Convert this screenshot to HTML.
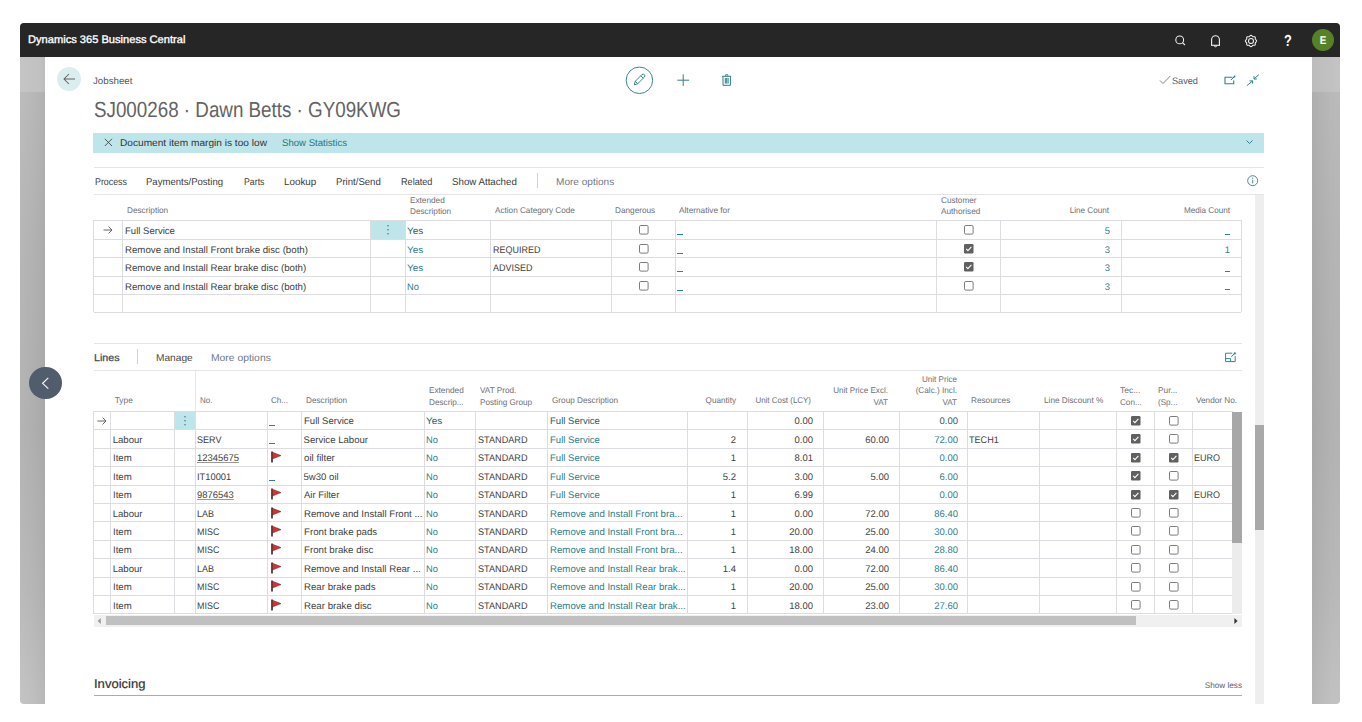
<!DOCTYPE html>
<html><head><meta charset="utf-8"><style>
html,body{margin:0;padding:0;}
body{width:1362px;height:722px;overflow:hidden;background:#fff;position:relative;font-family:"Liberation Sans",sans-serif;}
div{position:absolute;box-sizing:border-box;}
.t{white-space:nowrap;text-rendering:geometricPrecision;}
</style></head><body>
<div style="left:20.00px;top:23.00px;width:1320.00px;height:680.50px;background:#fff;border-radius:4px;overflow:hidden"></div>
<div style="left:20.00px;top:23.00px;width:1320.00px;height:33.70px;background:#262626;border-radius:4px 4px 0 0"></div>
<div style="left:20.00px;top:56.70px;width:24.80px;height:35.30px;background:linear-gradient(90deg,#c5c5c5,#c1c1c1 80%,#bcbcbc)"></div>
<div style="left:20.00px;top:92.00px;width:24.80px;height:611.50px;background:linear-gradient(90deg,rgba(255,255,255,0.05),rgba(0,0,0,0) 40%,rgba(0,0,0,0.035) 90%,rgba(0,0,0,0.05)),linear-gradient(180deg,#b9b9b9 0%,#b3b3b3 25%,#b0b0b0 55%,#b7b7b7 82%,#c1c1c1 100%);border-radius:0 0 0 4px"></div>
<div style="left:1312.40px;top:56.70px;width:27.60px;height:35.30px;background:linear-gradient(90deg,#bcbcbc,#c4c4c4)"></div>
<div style="left:1312.40px;top:92.00px;width:27.60px;height:611.50px;background:linear-gradient(90deg,rgba(0,0,0,0.06),rgba(0,0,0,0.03) 30%,rgba(0,0,0,0) 70%,rgba(255,255,255,0.02)),linear-gradient(180deg,#b9b9b9 0%,#b4b4b4 25%,#b2b2b2 55%,#b8b8b8 82%,#c1c1c1 100%);border-radius:0 0 4px 0"></div>
<div class="t" style="left:28.20px;top:30.45px;height:20px;line-height:20px;font-size:10.9px;color:#fff;transform:scaleX(1.0196);transform-origin:0 0;-webkit-text-stroke:0.35px #fff">Dynamics 365 Business Central</div>
<svg style="position:absolute;left:1170.00px;top:30.00px;" width="20" height="20" viewBox="0 0 20 20"><circle cx="9.7" cy="9.9" r="3.9" fill="none" stroke="#f2f2f2" stroke-width="1.05"/><line x1="12.5" y1="12.7" x2="14.9" y2="15" stroke="#f2f2f2" stroke-width="1.15"/></svg>
<svg style="position:absolute;left:1205.00px;top:30.00px;" width="20" height="20" viewBox="0 0 20 20"><path d="M6.6 15.2 V9.6 A3.9 3.9 0 0 1 14.4 9.6 V15.2" fill="none" stroke="#f2f2f2" stroke-width="1.1"/><line x1="6" y1="15.3" x2="15" y2="15.3" stroke="#f2f2f2" stroke-width="1.1"/><path d="M9.3 15.6 A1.2 1.2 0 0 0 11.7 15.6" fill="none" stroke="#f2f2f2" stroke-width="1"/></svg>
<svg style="position:absolute;left:1241.30px;top:30.60px;" width="20" height="20" viewBox="0 0 20 20"><polyline points="15.70,10.00 15.53,10.54 15.10,11.01 14.64,11.41 14.34,11.80 14.27,12.28 14.32,12.89 14.29,13.52 14.03,14.03 13.52,14.29 12.89,14.32 12.28,14.27 11.80,14.34 11.41,14.64 11.01,15.10 10.54,15.53 10.00,15.70 9.46,15.53 8.99,15.10 8.59,14.64 8.20,14.34 7.72,14.27 7.11,14.32 6.48,14.29 5.97,14.03 5.71,13.52 5.68,12.89 5.73,12.28 5.66,11.80 5.36,11.41 4.90,11.01 4.47,10.54 4.30,10.00 4.47,9.46 4.90,8.99 5.36,8.59 5.66,8.20 5.73,7.72 5.68,7.11 5.71,6.48 5.97,5.97 6.48,5.71 7.11,5.68 7.72,5.73 8.20,5.66 8.59,5.36 8.99,4.90 9.46,4.47 10.00,4.30 10.54,4.47 11.01,4.90 11.41,5.36 11.80,5.66 12.28,5.73 12.89,5.68 13.52,5.71 14.03,5.97 14.29,6.48 14.32,7.11 14.27,7.72 14.34,8.20 14.64,8.59 15.10,8.99 15.53,9.46 15.70,10.00" fill="none" stroke="#f2f2f2" stroke-width="1.05"/><circle cx="10" cy="10" r="2.5" fill="none" stroke="#f2f2f2" stroke-width="1.05"/></svg>
<div class="t" style="left:1277.60px;top:32.24px;width:20px;height:20px;line-height:20px;font-size:16px;color:#fff;text-align:center;transform:scaleX(0.7982);transform-origin:50% 0;font-weight:bold">?</div>
<div style="left:1311.70px;top:28.50px;width:22.60px;height:22.60px;background:#568227;border-radius:50%"></div>
<div class="t" style="left:1313.10px;top:31.45px;width:20px;height:20px;line-height:20px;font-size:11.3px;color:#fff;text-align:center;transform:scaleX(0.8756);transform-origin:50% 0;font-weight:bold">E</div>
<div style="left:57.10px;top:66.90px;width:24.20px;height:24.20px;background:#dcedf0;border-radius:50%"></div>
<svg style="position:absolute;left:59.20px;top:69.00px;" width="20" height="20" viewBox="0 0 20 20"><path d="M5 10 H16 M10 5 L5 10 L10 15" fill="none" stroke="#636363" stroke-width="1.05"/></svg>
<div class="t" style="left:93.30px;top:72.02px;height:20px;line-height:20px;font-size:9.6px;color:#505a69;transform:scaleX(1.0139);transform-origin:0 0;">Jobsheet</div>
<svg style="position:absolute;left:624.00px;top:65.00px;" width="32" height="32" viewBox="0 0 32 32"><circle cx="15.4" cy="15.3" r="13.25" fill="none" stroke="#2f8089" stroke-width="0.95"/><path d="M10.20 19.80 L13.70 18.77 L20.35 12.13 A1.75 1.75 0 0 0 17.87 9.65 L11.23 16.30 Z M13.70 18.77 L11.23 16.30 M19.22 13.26 L16.74 10.78" fill="none" stroke="#2f8089" stroke-width="0.95" stroke-linejoin="round"/></svg>
<svg style="position:absolute;left:673.00px;top:70.00px;" width="20" height="20" viewBox="0 0 20 20"><path d="M10.2 4.3 V16.1 M4.3 10.2 H16.1" stroke="#2f8089" stroke-width="1"/></svg>
<svg style="position:absolute;left:717.00px;top:70.00px;" width="20" height="20" viewBox="0 0 20 20"><path d="M5.2 6.3 H14.2 M6 6.3 V15.3 H13.4 V6.3 M8.5 5.8 V4.8 H10.9 V5.8 M8.3 8 V13.6 M9.7 8 V13.6 M11.1 8 V13.6" fill="none" stroke="#2f8089" stroke-width="1"/></svg>
<svg style="position:absolute;left:1158.00px;top:73.00px;" width="14" height="14" viewBox="0 0 14 14"><path d="M2 7.5 L5 10.5 L12.3 3" fill="none" stroke="#6b7380" stroke-width="0.9"/></svg>
<div class="t" style="left:1172.00px;top:71.12px;height:20px;line-height:20px;font-size:9.4px;color:#4f5969;transform:scaleX(0.9755);transform-origin:0 0;">Saved</div>
<svg style="position:absolute;left:1220.00px;top:70.00px;" width="20" height="20" viewBox="0 0 20 20"><path d="M12.5 7.3 H5 V13.7 H13.7 V10.5" fill="none" stroke="#2f8089" stroke-width="1.1"/><path d="M11 10 L14.5 6.5" stroke="#2f8089" stroke-width="1"/><circle cx="14.5" cy="6.5" r="1" fill="#2f8089"/></svg>
<svg style="position:absolute;left:1242.00px;top:70.00px;" width="20" height="20" viewBox="0 0 20 20"><path d="M4.9 15.7 L10.6 10.9 M7.5 10.9 H10.6 V13.6 M16.8 4.7 L12 9 M12 6.2 V9 H14.8" fill="none" stroke="#2f8089" stroke-width="1"/></svg>
<div class="t" style="left:93.50px;top:95.14px;height:30px;line-height:30px;font-size:21.8px;color:#636363;transform:scaleX(0.8619);transform-origin:0 0;">SJ000268 · Dawn Betts · GY09KWG</div>
<div style="left:93.40px;top:133.00px;width:1170.60px;height:20.00px;background:#bee5e9"></div>
<svg style="position:absolute;left:101.00px;top:135.00px;" width="15" height="15" viewBox="0 0 15 15"><path d="M3.8 3.8 L11 11 M11 3.8 L3.8 11" stroke="#444" stroke-width="0.9"/></svg>
<div class="t" style="left:120.00px;top:133.53px;height:20px;line-height:20px;font-size:9.8px;color:#333;transform:scaleX(1.0342);transform-origin:0 0;">Document item margin is too low</div>
<div class="t" style="left:282.00px;top:133.53px;height:20px;line-height:20px;font-size:9.8px;color:#2a7379;transform:scaleX(0.9782);transform-origin:0 0;">Show Statistics</div>
<svg style="position:absolute;left:1243.00px;top:136.00px;" width="14" height="12" viewBox="0 0 14 12"><path d="M3.5 4.5 L6.5 7.5 L9.5 4.5" fill="none" stroke="#2f8089" stroke-width="1"/></svg>
<div style="left:93.50px;top:166.50px;width:1170.50px;height:1.00px;background:#e4e4e6"></div>
<div style="left:93.50px;top:193.80px;width:1170.50px;height:1.00px;background:#e4e4e6"></div>
<div class="t" style="left:94.70px;top:173.03px;height:20px;line-height:20px;font-size:9.9px;color:#3a3a3a;transform:scaleX(0.8948);transform-origin:0 0;">Process</div>
<div class="t" style="left:146.40px;top:173.03px;height:20px;line-height:20px;font-size:9.9px;color:#3a3a3a;transform:scaleX(0.9676);transform-origin:0 0;">Payments/Posting</div>
<div class="t" style="left:243.60px;top:173.03px;height:20px;line-height:20px;font-size:9.9px;color:#3a3a3a;transform:scaleX(0.8872);transform-origin:0 0;">Parts</div>
<div class="t" style="left:283.80px;top:173.03px;height:20px;line-height:20px;font-size:9.9px;color:#3a3a3a;transform:scaleX(0.9946);transform-origin:0 0;">Lookup</div>
<div class="t" style="left:335.80px;top:173.03px;height:20px;line-height:20px;font-size:9.9px;color:#3a3a3a;transform:scaleX(0.9713);transform-origin:0 0;">Print/Send</div>
<div class="t" style="left:401.10px;top:173.03px;height:20px;line-height:20px;font-size:9.9px;color:#3a3a3a;transform:scaleX(0.9232);transform-origin:0 0;">Related</div>
<div class="t" style="left:452.40px;top:173.03px;height:20px;line-height:20px;font-size:9.9px;color:#3a3a3a;transform:scaleX(0.9842);transform-origin:0 0;">Show Attached</div>
<div style="left:536.90px;top:173.00px;width:1.00px;height:15.00px;background:#cfd3d8"></div>
<div class="t" style="left:555.80px;top:173.03px;height:20px;line-height:20px;font-size:9.9px;color:#6e7888;transform:scaleX(1.0188);transform-origin:0 0;">More options</div>
<svg style="position:absolute;left:1246.00px;top:174.00px;" width="14" height="14" viewBox="0 0 14 14"><circle cx="6.7" cy="6.7" r="5" fill="none" stroke="#2f8089" stroke-width="0.9"/><path d="M6.7 5.8 V9.4" stroke="#2f8089" stroke-width="0.9"/><circle cx="6.7" cy="4.2" r="0.6" fill="#2f8089"/></svg>
<div class="t" style="left:126.80px;top:200.00px;height:20px;line-height:20px;font-size:8.35px;color:#6c7079;transform:scaleX(0.9856);transform-origin:0 0;">Description</div>
<div class="t" style="left:409.50px;top:190.00px;height:20px;line-height:20px;font-size:8.35px;color:#6c7079;transform:scaleX(0.9842);transform-origin:0 0;">Extended</div>
<div class="t" style="left:409.50px;top:201.20px;height:20px;line-height:20px;font-size:8.35px;color:#6c7079;transform:scaleX(0.9856);transform-origin:0 0;">Description</div>
<div class="t" style="left:494.70px;top:200.00px;height:20px;line-height:20px;font-size:8.35px;color:#6c7079;transform:scaleX(0.9784);transform-origin:0 0;">Action Category Code</div>
<div class="t" style="left:615.40px;top:200.00px;height:20px;line-height:20px;font-size:8.35px;color:#6c7079;transform:scaleX(0.9852);transform-origin:0 0;">Dangerous</div>
<div class="t" style="left:678.80px;top:200.00px;height:20px;line-height:20px;font-size:8.35px;color:#6c7079;transform:scaleX(0.9892);transform-origin:0 0;">Alternative for</div>
<div class="t" style="left:940.80px;top:189.80px;height:20px;line-height:20px;font-size:8.35px;color:#6c7079;transform:scaleX(0.9833);transform-origin:0 0;">Customer</div>
<div class="t" style="left:940.80px;top:201.00px;height:20px;line-height:20px;font-size:8.35px;color:#6c7079;transform:scaleX(0.9860);transform-origin:0 0;">Authorised</div>
<div class="t" style="left:809.20px;top:200.00px;width:300px;height:20px;line-height:20px;font-size:8.35px;color:#6c7079;text-align:right;transform:scaleX(0.9736);transform-origin:100% 0;">Line Count</div>
<div class="t" style="left:929.60px;top:200.00px;width:300px;height:20px;line-height:20px;font-size:8.35px;color:#6c7079;text-align:right;transform:scaleX(0.9726);transform-origin:100% 0;">Media Count</div>
<div style="left:370.50px;top:220.40px;width:35.00px;height:18.90px;background:#bee5e9"></div>
<div style="left:93.50px;top:219.90px;width:1147.80px;height:1.00px;background:#dddde1"></div>
<div style="left:93.50px;top:238.80px;width:1147.80px;height:1.00px;background:#dddde1"></div>
<div style="left:93.50px;top:256.90px;width:1147.80px;height:1.00px;background:#dddde1"></div>
<div style="left:93.50px;top:275.70px;width:1147.80px;height:1.00px;background:#dddde1"></div>
<div style="left:93.50px;top:293.80px;width:1147.80px;height:1.00px;background:#dddde1"></div>
<div style="left:93.50px;top:311.90px;width:1147.80px;height:1.00px;background:#dddde1"></div>
<div style="left:93.00px;top:220.40px;width:1.00px;height:92.00px;background:#dddde1"></div>
<div style="left:122.00px;top:220.40px;width:1.00px;height:92.00px;background:#dddde1"></div>
<div style="left:370.00px;top:220.40px;width:1.00px;height:92.00px;background:#dddde1"></div>
<div style="left:405.00px;top:220.40px;width:1.00px;height:92.00px;background:#dddde1"></div>
<div style="left:489.80px;top:220.40px;width:1.00px;height:92.00px;background:#dddde1"></div>
<div style="left:611.00px;top:220.40px;width:1.00px;height:92.00px;background:#dddde1"></div>
<div style="left:674.80px;top:220.40px;width:1.00px;height:92.00px;background:#dddde1"></div>
<div style="left:935.80px;top:220.40px;width:1.00px;height:92.00px;background:#dddde1"></div>
<div style="left:999.90px;top:220.40px;width:1.00px;height:92.00px;background:#dddde1"></div>
<div style="left:1120.80px;top:220.40px;width:1.00px;height:92.00px;background:#dddde1"></div>
<div style="left:1240.80px;top:220.40px;width:1.00px;height:92.00px;background:#dddde1"></div>
<svg style="position:absolute;left:101.00px;top:224.35px;" width="14" height="12" viewBox="0 0 14 12"><path d="M2.5 6 H11 M7.5 2.5 L11 6 L7.5 9.5" fill="none" stroke="#555" stroke-width="0.9"/></svg>
<svg style="position:absolute;left:383.00px;top:222.35px;" width="10" height="16" viewBox="0 0 10 16"><circle cx="5" cy="3.7" r="0.75" fill="#4f6a70"/><circle cx="5" cy="7.7" r="0.75" fill="#4f6a70"/><circle cx="5" cy="11.7" r="0.75" fill="#4f6a70"/></svg>
<div class="t" style="left:124.70px;top:221.87px;height:20px;line-height:20px;font-size:9.6px;color:#424242;transform:scaleX(0.9965);transform-origin:0 0;">Full Service</div>
<div class="t" style="left:407.30px;top:221.87px;height:20px;line-height:20px;font-size:9.6px;color:#276268;transform:scaleX(1.0408);transform-origin:0 0;">Yes</div>
<svg style="position:absolute;left:638.00px;top:224.00px;" width="11" height="11" viewBox="0 0 11 11"><rect x="1.5" y="1.5" width="8.6" height="8.6" rx="1.3" fill="#fff" stroke="#666" stroke-width="0.85"/></svg>
<div style="left:677.00px;top:234.15px;width:5.50px;height:1.00px;background:#2f8089"></div>
<svg style="position:absolute;left:963.00px;top:224.00px;" width="11" height="11" viewBox="0 0 11 11"><rect x="1.5" y="1.5" width="8.6" height="8.6" rx="1.3" fill="#fff" stroke="#666" stroke-width="0.85"/></svg>
<div class="t" style="left:810.40px;top:221.87px;width:300px;height:20px;line-height:20px;font-size:9.6px;color:#2f8089;text-align:right;transform:scaleX(0.9844);transform-origin:100% 0;">5</div>
<div style="left:1224.50px;top:233.55px;width:5.50px;height:1.00px;background:#2f8089"></div>
<div class="t" style="left:124.70px;top:240.77px;height:20px;line-height:20px;font-size:9.6px;color:#424242;transform:scaleX(1.0090);transform-origin:0 0;">Remove and Install Front brake disc (both)</div>
<div class="t" style="left:407.30px;top:240.77px;height:20px;line-height:20px;font-size:9.6px;color:#2f8089;transform:scaleX(1.0408);transform-origin:0 0;">Yes</div>
<div class="t" style="left:492.80px;top:240.77px;height:20px;line-height:20px;font-size:9.6px;color:#424242;transform:scaleX(0.9375);transform-origin:0 0;">REQUIRED</div>
<svg style="position:absolute;left:638.00px;top:243.00px;" width="11" height="11" viewBox="0 0 11 11"><rect x="1.5" y="1.5" width="8.6" height="8.6" rx="1.3" fill="#fff" stroke="#666" stroke-width="0.85"/></svg>
<div style="left:677.00px;top:253.05px;width:5.50px;height:1.00px;background:#2f8089"></div>
<svg style="position:absolute;left:963.00px;top:243.00px;" width="11" height="11" viewBox="0 0 11 11"><rect x="1" y="1" width="9.5" height="9.5" rx="1.2" fill="#606060"/><path d="M3.2 5.9 L4.9 7.6 L8.4 3.9" fill="none" stroke="#fff" stroke-width="1.1"/></svg>
<div class="t" style="left:810.40px;top:240.77px;width:300px;height:20px;line-height:20px;font-size:9.6px;color:#2f8089;text-align:right;transform:scaleX(0.9844);transform-origin:100% 0;">3</div>
<div class="t" style="left:930.00px;top:240.77px;width:300px;height:20px;line-height:20px;font-size:9.6px;color:#2f8089;text-align:right;transform:scaleX(0.9844);transform-origin:100% 0;">1</div>
<div class="t" style="left:124.70px;top:258.87px;height:20px;line-height:20px;font-size:9.6px;color:#424242;transform:scaleX(1.0084);transform-origin:0 0;">Remove and Install Rear brake disc (both)</div>
<div class="t" style="left:407.30px;top:258.87px;height:20px;line-height:20px;font-size:9.6px;color:#2f8089;transform:scaleX(1.0408);transform-origin:0 0;">Yes</div>
<div class="t" style="left:492.80px;top:258.87px;height:20px;line-height:20px;font-size:9.6px;color:#424242;transform:scaleX(0.9375);transform-origin:0 0;">ADVISED</div>
<svg style="position:absolute;left:638.00px;top:261.00px;" width="11" height="11" viewBox="0 0 11 11"><rect x="1.5" y="1.5" width="8.6" height="8.6" rx="1.3" fill="#fff" stroke="#666" stroke-width="0.85"/></svg>
<div style="left:677.00px;top:271.15px;width:5.50px;height:1.00px;background:#2f8089"></div>
<svg style="position:absolute;left:963.00px;top:261.00px;" width="11" height="11" viewBox="0 0 11 11"><rect x="1" y="1" width="9.5" height="9.5" rx="1.2" fill="#606060"/><path d="M3.2 5.9 L4.9 7.6 L8.4 3.9" fill="none" stroke="#fff" stroke-width="1.1"/></svg>
<div class="t" style="left:810.40px;top:258.87px;width:300px;height:20px;line-height:20px;font-size:9.6px;color:#2f8089;text-align:right;transform:scaleX(0.9844);transform-origin:100% 0;">3</div>
<div style="left:1224.50px;top:270.55px;width:5.50px;height:1.00px;background:#2f8089"></div>
<div class="t" style="left:124.70px;top:277.67px;height:20px;line-height:20px;font-size:9.6px;color:#424242;transform:scaleX(1.0084);transform-origin:0 0;">Remove and Install Rear brake disc (both)</div>
<div class="t" style="left:407.30px;top:277.67px;height:20px;line-height:20px;font-size:9.6px;color:#2f8089;transform:scaleX(0.9715);transform-origin:0 0;">No</div>
<svg style="position:absolute;left:638.00px;top:280.00px;" width="11" height="11" viewBox="0 0 11 11"><rect x="1.5" y="1.5" width="8.6" height="8.6" rx="1.3" fill="#fff" stroke="#666" stroke-width="0.85"/></svg>
<div style="left:677.00px;top:289.95px;width:5.50px;height:1.00px;background:#2f8089"></div>
<svg style="position:absolute;left:963.00px;top:280.00px;" width="11" height="11" viewBox="0 0 11 11"><rect x="1.5" y="1.5" width="8.6" height="8.6" rx="1.3" fill="#fff" stroke="#666" stroke-width="0.85"/></svg>
<div class="t" style="left:810.40px;top:277.67px;width:300px;height:20px;line-height:20px;font-size:9.6px;color:#2f8089;text-align:right;transform:scaleX(0.9844);transform-origin:100% 0;">3</div>
<div style="left:1224.50px;top:289.35px;width:5.50px;height:1.00px;background:#2f8089"></div>
<div style="left:1254.50px;top:195.00px;width:9.50px;height:508.50px;background:#eeeeee"></div>
<div style="left:1254.80px;top:425.00px;width:9.00px;height:104.60px;background:#a9a9a9"></div>
<div style="left:29.20px;top:367.10px;width:32.40px;height:32.40px;background:#515c6d;border-radius:50%"></div>
<svg style="position:absolute;left:35.00px;top:373.00px;" width="20" height="20" viewBox="0 0 20 20"><path d="M13.3 4.9 L7.6 10.3 L13.3 15.7" fill="none" stroke="#fff" stroke-width="1.1"/></svg>
<div style="left:93.50px;top:343.10px;width:1148.10px;height:1.00px;background:#e4e4e6"></div>
<div style="left:93.50px;top:370.00px;width:1148.10px;height:1.00px;background:#e4e4e6"></div>
<div class="t" style="left:94.00px;top:348.73px;height:20px;line-height:20px;font-size:10px;color:#3d4656;transform:scaleX(1.0709);transform-origin:0 0;-webkit-text-stroke:0.25px #3d4656">Lines</div>
<div style="left:137.00px;top:349.00px;width:1.00px;height:15.40px;background:#cfd3d8"></div>
<div class="t" style="left:156.00px;top:348.73px;height:20px;line-height:20px;font-size:10px;color:#4a4a4a;transform:scaleX(1.0157);transform-origin:0 0;">Manage</div>
<div class="t" style="left:211.00px;top:348.73px;height:20px;line-height:20px;font-size:10px;color:#6e7888;transform:scaleX(1.0345);transform-origin:0 0;">More options</div>
<svg style="position:absolute;left:1220.00px;top:347.00px;" width="22" height="20" viewBox="0 0 22 20"><path d="M12.3 6.2 H5.6 V14.6 H15.2 V9.2" fill="none" stroke="#2f8089" stroke-width="0.95"/><path d="M5.6 11.6 H10.6 V14.6" fill="none" stroke="#2f8089" stroke-width="0.95"/><path d="M11.4 9.6 L14.6 6.6" stroke="#2f8089" stroke-width="1"/><circle cx="14.8" cy="6.4" r="1.1" fill="#2f8089"/></svg>
<div style="left:194.60px;top:370.50px;width:1.00px;height:40.80px;background:#e6e6e8"></div>
<div class="t" style="left:114.70px;top:390.40px;height:20px;line-height:20px;font-size:8.35px;color:#6c7079;transform-origin:0 0;">Type</div>
<div class="t" style="left:200.00px;top:390.40px;height:20px;line-height:20px;font-size:8.35px;color:#6c7079;transform:scaleX(0.9536);transform-origin:0 0;">No.</div>
<div class="t" style="left:271.30px;top:390.40px;height:20px;line-height:20px;font-size:8.35px;color:#6c7079;transform:scaleX(0.9658);transform-origin:0 0;">Ch...</div>
<div class="t" style="left:305.70px;top:390.40px;height:20px;line-height:20px;font-size:8.35px;color:#6c7079;transform:scaleX(0.9856);transform-origin:0 0;">Description</div>
<div class="t" style="left:428.50px;top:380.40px;height:20px;line-height:20px;font-size:8.35px;color:#6c7079;transform:scaleX(0.9842);transform-origin:0 0;">Extended</div>
<div class="t" style="left:428.50px;top:391.60px;height:20px;line-height:20px;font-size:8.35px;color:#6c7079;transform:scaleX(0.9829);transform-origin:0 0;">Descrip...</div>
<div class="t" style="left:479.60px;top:380.40px;height:20px;line-height:20px;font-size:8.35px;color:#6c7079;transform:scaleX(0.9787);transform-origin:0 0;">VAT Prod.</div>
<div class="t" style="left:479.60px;top:391.60px;height:20px;line-height:20px;font-size:8.35px;color:#6c7079;transform:scaleX(0.9774);transform-origin:0 0;">Posting Group</div>
<div class="t" style="left:551.50px;top:390.40px;height:20px;line-height:20px;font-size:8.35px;color:#6c7079;transform:scaleX(0.9814);transform-origin:0 0;">Group Description</div>
<div class="t" style="left:435.50px;top:390.40px;width:300px;height:20px;line-height:20px;font-size:8.35px;color:#6c7079;text-align:right;transform:scaleX(0.9791);transform-origin:100% 0;">Quantity</div>
<div class="t" style="left:511.20px;top:390.40px;width:300px;height:20px;line-height:20px;font-size:8.35px;color:#6c7079;text-align:right;transform:scaleX(0.9516);transform-origin:100% 0;">Unit Cost (LCY)</div>
<div class="t" style="left:588.20px;top:380.40px;width:300px;height:20px;line-height:20px;font-size:8.35px;color:#6c7079;text-align:right;transform:scaleX(0.9697);transform-origin:100% 0;">Unit Price Excl.</div>
<div class="t" style="left:588.20px;top:391.60px;width:300px;height:20px;line-height:20px;font-size:8.35px;color:#6c7079;text-align:right;transform:scaleX(0.9744);transform-origin:100% 0;">VAT</div>
<div class="t" style="left:656.60px;top:369.20px;width:300px;height:20px;line-height:20px;font-size:8.35px;color:#6c7079;text-align:right;transform:scaleX(0.9679);transform-origin:100% 0;">Unit Price</div>
<div class="t" style="left:656.60px;top:380.40px;width:300px;height:20px;line-height:20px;font-size:8.35px;color:#6c7079;text-align:right;transform:scaleX(0.9802);transform-origin:100% 0;">(Calc.) Incl.</div>
<div class="t" style="left:656.60px;top:391.60px;width:300px;height:20px;line-height:20px;font-size:8.35px;color:#6c7079;text-align:right;transform:scaleX(0.9744);transform-origin:100% 0;">VAT</div>
<div class="t" style="left:971.00px;top:390.40px;height:20px;line-height:20px;font-size:8.35px;color:#6c7079;transform:scaleX(0.9849);transform-origin:0 0;">Resources</div>
<div class="t" style="left:1044.30px;top:390.40px;height:20px;line-height:20px;font-size:8.35px;color:#6c7079;transform:scaleX(0.9823);transform-origin:0 0;">Line Discount %</div>
<div class="t" style="left:1119.80px;top:380.40px;height:20px;line-height:20px;font-size:8.35px;color:#6c7079;transform:scaleX(1.0208);transform-origin:0 0;">Tec...</div>
<div class="t" style="left:1119.80px;top:391.60px;height:20px;line-height:20px;font-size:8.35px;color:#6c7079;transform:scaleX(0.9729);transform-origin:0 0;">Con...</div>
<div class="t" style="left:1158.00px;top:380.40px;height:20px;line-height:20px;font-size:8.35px;color:#6c7079;transform:scaleX(0.9951);transform-origin:0 0;">Pur...</div>
<div class="t" style="left:1158.00px;top:391.60px;height:20px;line-height:20px;font-size:8.35px;color:#6c7079;transform:scaleX(0.9721);transform-origin:0 0;">(Sp...</div>
<div class="t" style="left:1196.10px;top:390.40px;height:20px;line-height:20px;font-size:8.35px;color:#6c7079;transform:scaleX(0.9833);transform-origin:0 0;">Vendor No.</div>
<div style="left:174.60px;top:411.40px;width:20.50px;height:18.20px;background:#bee5e9"></div>
<div style="left:93.50px;top:410.90px;width:1138.80px;height:1.00px;background:#dddde1"></div>
<div style="left:93.50px;top:429.10px;width:1138.80px;height:1.00px;background:#dddde1"></div>
<div style="left:93.50px;top:447.90px;width:1138.80px;height:1.00px;background:#dddde1"></div>
<div style="left:93.50px;top:466.20px;width:1138.80px;height:1.00px;background:#dddde1"></div>
<div style="left:93.50px;top:484.50px;width:1138.80px;height:1.00px;background:#dddde1"></div>
<div style="left:93.50px;top:503.20px;width:1138.80px;height:1.00px;background:#dddde1"></div>
<div style="left:93.50px;top:521.20px;width:1138.80px;height:1.00px;background:#dddde1"></div>
<div style="left:93.50px;top:539.90px;width:1138.80px;height:1.00px;background:#dddde1"></div>
<div style="left:93.50px;top:558.30px;width:1138.80px;height:1.00px;background:#dddde1"></div>
<div style="left:93.50px;top:576.50px;width:1138.80px;height:1.00px;background:#dddde1"></div>
<div style="left:93.50px;top:595.00px;width:1138.80px;height:1.00px;background:#dddde1"></div>
<div style="left:93.50px;top:612.80px;width:1138.80px;height:1.00px;background:#dddde1"></div>
<div style="left:93.00px;top:411.30px;width:1.00px;height:202.40px;background:#dddde1"></div>
<div style="left:110.00px;top:411.30px;width:1.00px;height:202.40px;background:#dddde1"></div>
<div style="left:174.10px;top:411.30px;width:1.00px;height:202.40px;background:#dddde1"></div>
<div style="left:194.60px;top:411.30px;width:1.00px;height:202.40px;background:#dddde1"></div>
<div style="left:266.70px;top:411.30px;width:1.00px;height:202.40px;background:#dddde1"></div>
<div style="left:300.90px;top:411.30px;width:1.00px;height:202.40px;background:#dddde1"></div>
<div style="left:423.70px;top:411.30px;width:1.00px;height:202.40px;background:#dddde1"></div>
<div style="left:474.80px;top:411.30px;width:1.00px;height:202.40px;background:#dddde1"></div>
<div style="left:546.80px;top:411.30px;width:1.00px;height:202.40px;background:#dddde1"></div>
<div style="left:687.10px;top:411.30px;width:1.00px;height:202.40px;background:#dddde1"></div>
<div style="left:747.30px;top:411.30px;width:1.00px;height:202.40px;background:#dddde1"></div>
<div style="left:822.90px;top:411.30px;width:1.00px;height:202.40px;background:#dddde1"></div>
<div style="left:898.90px;top:411.30px;width:1.00px;height:202.40px;background:#dddde1"></div>
<div style="left:966.90px;top:411.30px;width:1.00px;height:202.40px;background:#dddde1"></div>
<div style="left:1039.00px;top:411.30px;width:1.00px;height:202.40px;background:#dddde1"></div>
<div style="left:1116.10px;top:411.30px;width:1.00px;height:202.40px;background:#dddde1"></div>
<div style="left:1154.30px;top:411.30px;width:1.00px;height:202.40px;background:#dddde1"></div>
<div style="left:1191.60px;top:411.30px;width:1.00px;height:202.40px;background:#dddde1"></div>
<div style="left:1231.80px;top:411.30px;width:1.00px;height:202.40px;background:#dddde1"></div>
<svg style="position:absolute;left:95.00px;top:414.95px;" width="14" height="12" viewBox="0 0 14 12"><path d="M2.5 6 H11 M7.5 2.5 L11 6 L7.5 9.5" fill="none" stroke="#555" stroke-width="0.9"/></svg>
<svg style="position:absolute;left:179.80px;top:412.95px;" width="10" height="16" viewBox="0 0 10 16"><circle cx="5" cy="3.7" r="0.75" fill="#4f6a70"/><circle cx="5" cy="7.7" r="0.75" fill="#4f6a70"/><circle cx="5" cy="11.7" r="0.75" fill="#4f6a70"/></svg>
<div style="left:269.40px;top:424.75px;width:5.50px;height:1.00px;background:#2f8089"></div>
<div class="t" style="left:303.50px;top:412.47px;height:20px;line-height:20px;font-size:9.6px;color:#424242;transform:scaleX(0.9965);transform-origin:0 0;">Full Service</div>
<div class="t" style="left:426.20px;top:412.47px;height:20px;line-height:20px;font-size:9.6px;color:#276268;transform:scaleX(1.0408);transform-origin:0 0;">Yes</div>
<div class="t" style="left:549.70px;top:412.47px;height:20px;line-height:20px;font-size:9.6px;color:#276268;transform:scaleX(0.9965);transform-origin:0 0;">Full Service</div>
<div class="t" style="left:513.00px;top:412.47px;width:300px;height:20px;line-height:20px;font-size:9.6px;color:#424242;text-align:right;transform:scaleX(0.9888);transform-origin:100% 0;">0.00</div>
<div class="t" style="left:657.70px;top:412.47px;width:300px;height:20px;line-height:20px;font-size:9.6px;color:#276268;text-align:right;transform:scaleX(0.9888);transform-origin:100% 0;">0.00</div>
<svg style="position:absolute;left:1130.00px;top:415.00px;" width="11" height="11" viewBox="0 0 11 11"><rect x="1" y="1" width="9.5" height="9.5" rx="1.2" fill="#606060"/><path d="M3.2 5.9 L4.9 7.6 L8.4 3.9" fill="none" stroke="#fff" stroke-width="1.1"/></svg>
<svg style="position:absolute;left:1168.00px;top:415.00px;" width="11" height="11" viewBox="0 0 11 11"><rect x="1.5" y="1.5" width="8.6" height="8.6" rx="1.3" fill="#fff" stroke="#666" stroke-width="0.85"/></svg>
<div class="t" style="left:112.70px;top:430.67px;height:20px;line-height:20px;font-size:9.6px;color:#424242;transform-origin:0 0;">Labour</div>
<div class="t" style="left:197.30px;top:430.67px;height:20px;line-height:20px;font-size:9.6px;color:#424242;transform:scaleX(0.9438);transform-origin:0 0;">SERV</div>
<div style="left:269.40px;top:442.95px;width:5.50px;height:1.00px;background:#2f8089"></div>
<div class="t" style="left:303.50px;top:430.67px;height:20px;line-height:20px;font-size:9.6px;color:#424242;transform-origin:0 0;">Service Labour</div>
<div class="t" style="left:426.20px;top:430.67px;height:20px;line-height:20px;font-size:9.6px;color:#2f8089;transform:scaleX(0.9715);transform-origin:0 0;">No</div>
<div class="t" style="left:477.80px;top:430.67px;height:20px;line-height:20px;font-size:9.6px;color:#424242;transform:scaleX(0.9503);transform-origin:0 0;">STANDARD</div>
<div class="t" style="left:549.70px;top:430.67px;height:20px;line-height:20px;font-size:9.6px;color:#2f8089;transform:scaleX(0.9965);transform-origin:0 0;">Full Service</div>
<div class="t" style="left:435.80px;top:430.67px;width:300px;height:20px;line-height:20px;font-size:9.6px;color:#424242;text-align:right;transform:scaleX(0.9844);transform-origin:100% 0;">2</div>
<div class="t" style="left:513.00px;top:430.67px;width:300px;height:20px;line-height:20px;font-size:9.6px;color:#424242;text-align:right;transform:scaleX(0.9888);transform-origin:100% 0;">0.00</div>
<div class="t" style="left:589.30px;top:430.67px;width:300px;height:20px;line-height:20px;font-size:9.6px;color:#424242;text-align:right;transform:scaleX(0.9878);transform-origin:100% 0;">60.00</div>
<div class="t" style="left:657.70px;top:430.67px;width:300px;height:20px;line-height:20px;font-size:9.6px;color:#2f8089;text-align:right;transform:scaleX(0.9878);transform-origin:100% 0;">72.00</div>
<div class="t" style="left:969.20px;top:430.67px;height:20px;line-height:20px;font-size:9.6px;color:#424242;transform:scaleX(0.9455);transform-origin:0 0;">TECH1</div>
<svg style="position:absolute;left:1130.00px;top:433.00px;" width="11" height="11" viewBox="0 0 11 11"><rect x="1" y="1" width="9.5" height="9.5" rx="1.2" fill="#606060"/><path d="M3.2 5.9 L4.9 7.6 L8.4 3.9" fill="none" stroke="#fff" stroke-width="1.1"/></svg>
<svg style="position:absolute;left:1168.00px;top:433.00px;" width="11" height="11" viewBox="0 0 11 11"><rect x="1.5" y="1.5" width="8.6" height="8.6" rx="1.3" fill="#fff" stroke="#666" stroke-width="0.85"/></svg>
<div class="t" style="left:112.70px;top:449.47px;height:20px;line-height:20px;font-size:9.6px;color:#424242;transform:scaleX(1.0045);transform-origin:0 0;">Item</div>
<div class="t" style="left:197.30px;top:449.47px;height:20px;line-height:20px;font-size:9.6px;color:#424242;transform:scaleX(0.9844);transform-origin:0 0;"><u style="text-decoration-color:#9a9a9a">12345675</u></div>
<svg style="position:absolute;left:270.00px;top:450.45px;" width="14" height="14" viewBox="0 0 14 14"><path d="M2 1.6 V12.4" stroke="#2b2b2b" stroke-width="1.6"/><path d="M2.4 2.2 L11 5.6 L2.4 9 Z" fill="#d93030" stroke="#5a1a1a" stroke-width="0.5" stroke-linejoin="round"/></svg>
<div class="t" style="left:303.50px;top:449.47px;height:20px;line-height:20px;font-size:9.6px;color:#424242;transform:scaleX(1.0156);transform-origin:0 0;">oil filter</div>
<div class="t" style="left:426.20px;top:449.47px;height:20px;line-height:20px;font-size:9.6px;color:#2f8089;transform:scaleX(0.9715);transform-origin:0 0;">No</div>
<div class="t" style="left:477.80px;top:449.47px;height:20px;line-height:20px;font-size:9.6px;color:#424242;transform:scaleX(0.9503);transform-origin:0 0;">STANDARD</div>
<div class="t" style="left:549.70px;top:449.47px;height:20px;line-height:20px;font-size:9.6px;color:#2f8089;transform:scaleX(0.9965);transform-origin:0 0;">Full Service</div>
<div class="t" style="left:435.80px;top:449.47px;width:300px;height:20px;line-height:20px;font-size:9.6px;color:#424242;text-align:right;transform:scaleX(0.9844);transform-origin:100% 0;">1</div>
<div class="t" style="left:513.00px;top:449.47px;width:300px;height:20px;line-height:20px;font-size:9.6px;color:#424242;text-align:right;transform:scaleX(0.9888);transform-origin:100% 0;">8.01</div>
<div class="t" style="left:657.70px;top:449.47px;width:300px;height:20px;line-height:20px;font-size:9.6px;color:#2f8089;text-align:right;transform:scaleX(0.9888);transform-origin:100% 0;">0.00</div>
<svg style="position:absolute;left:1130.00px;top:452.00px;" width="11" height="11" viewBox="0 0 11 11"><rect x="1" y="1" width="9.5" height="9.5" rx="1.2" fill="#606060"/><path d="M3.2 5.9 L4.9 7.6 L8.4 3.9" fill="none" stroke="#fff" stroke-width="1.1"/></svg>
<svg style="position:absolute;left:1168.00px;top:452.00px;" width="11" height="11" viewBox="0 0 11 11"><rect x="1" y="1" width="9.5" height="9.5" rx="1.2" fill="#606060"/><path d="M3.2 5.9 L4.9 7.6 L8.4 3.9" fill="none" stroke="#fff" stroke-width="1.1"/></svg>
<div class="t" style="left:1194.00px;top:449.47px;height:20px;line-height:20px;font-size:9.6px;color:#424242;transform:scaleX(0.9375);transform-origin:0 0;">EURO</div>
<div class="t" style="left:112.70px;top:467.77px;height:20px;line-height:20px;font-size:9.6px;color:#424242;transform:scaleX(1.0045);transform-origin:0 0;">Item</div>
<div class="t" style="left:197.30px;top:467.77px;height:20px;line-height:20px;font-size:9.6px;color:#424242;transform:scaleX(0.9730);transform-origin:0 0;">IT10001</div>
<div style="left:269.40px;top:480.05px;width:5.50px;height:1.00px;background:#2f8089"></div>
<div class="t" style="left:303.50px;top:467.77px;height:20px;line-height:20px;font-size:9.6px;color:#424242;transform-origin:0 0;">5w30 oil</div>
<div class="t" style="left:426.20px;top:467.77px;height:20px;line-height:20px;font-size:9.6px;color:#2f8089;transform:scaleX(0.9715);transform-origin:0 0;">No</div>
<div class="t" style="left:477.80px;top:467.77px;height:20px;line-height:20px;font-size:9.6px;color:#424242;transform:scaleX(0.9503);transform-origin:0 0;">STANDARD</div>
<div class="t" style="left:549.70px;top:467.77px;height:20px;line-height:20px;font-size:9.6px;color:#2f8089;transform:scaleX(0.9965);transform-origin:0 0;">Full Service</div>
<div class="t" style="left:435.80px;top:467.77px;width:300px;height:20px;line-height:20px;font-size:9.6px;color:#424242;text-align:right;transform:scaleX(0.9906);transform-origin:100% 0;">5.2</div>
<div class="t" style="left:513.00px;top:467.77px;width:300px;height:20px;line-height:20px;font-size:9.6px;color:#424242;text-align:right;transform:scaleX(0.9888);transform-origin:100% 0;">3.00</div>
<div class="t" style="left:589.30px;top:467.77px;width:300px;height:20px;line-height:20px;font-size:9.6px;color:#424242;text-align:right;transform:scaleX(0.9888);transform-origin:100% 0;">5.00</div>
<div class="t" style="left:657.70px;top:467.77px;width:300px;height:20px;line-height:20px;font-size:9.6px;color:#2f8089;text-align:right;transform:scaleX(0.9888);transform-origin:100% 0;">6.00</div>
<svg style="position:absolute;left:1130.00px;top:470.00px;" width="11" height="11" viewBox="0 0 11 11"><rect x="1" y="1" width="9.5" height="9.5" rx="1.2" fill="#606060"/><path d="M3.2 5.9 L4.9 7.6 L8.4 3.9" fill="none" stroke="#fff" stroke-width="1.1"/></svg>
<svg style="position:absolute;left:1168.00px;top:470.00px;" width="11" height="11" viewBox="0 0 11 11"><rect x="1.5" y="1.5" width="8.6" height="8.6" rx="1.3" fill="#fff" stroke="#666" stroke-width="0.85"/></svg>
<div class="t" style="left:112.70px;top:486.07px;height:20px;line-height:20px;font-size:9.6px;color:#424242;transform:scaleX(1.0045);transform-origin:0 0;">Item</div>
<div class="t" style="left:197.30px;top:486.07px;height:20px;line-height:20px;font-size:9.6px;color:#424242;transform:scaleX(0.9844);transform-origin:0 0;"><u style="text-decoration-color:#9a9a9a">9876543</u></div>
<svg style="position:absolute;left:270.00px;top:487.05px;" width="14" height="14" viewBox="0 0 14 14"><path d="M2 1.6 V12.4" stroke="#2b2b2b" stroke-width="1.6"/><path d="M2.4 2.2 L11 5.6 L2.4 9 Z" fill="#d93030" stroke="#5a1a1a" stroke-width="0.5" stroke-linejoin="round"/></svg>
<div class="t" style="left:303.50px;top:486.07px;height:20px;line-height:20px;font-size:9.6px;color:#424242;transform:scaleX(0.9888);transform-origin:0 0;">Air Filter</div>
<div class="t" style="left:426.20px;top:486.07px;height:20px;line-height:20px;font-size:9.6px;color:#2f8089;transform:scaleX(0.9715);transform-origin:0 0;">No</div>
<div class="t" style="left:477.80px;top:486.07px;height:20px;line-height:20px;font-size:9.6px;color:#424242;transform:scaleX(0.9503);transform-origin:0 0;">STANDARD</div>
<div class="t" style="left:549.70px;top:486.07px;height:20px;line-height:20px;font-size:9.6px;color:#2f8089;transform:scaleX(0.9965);transform-origin:0 0;">Full Service</div>
<div class="t" style="left:435.80px;top:486.07px;width:300px;height:20px;line-height:20px;font-size:9.6px;color:#424242;text-align:right;transform:scaleX(0.9844);transform-origin:100% 0;">1</div>
<div class="t" style="left:513.00px;top:486.07px;width:300px;height:20px;line-height:20px;font-size:9.6px;color:#424242;text-align:right;transform:scaleX(0.9888);transform-origin:100% 0;">6.99</div>
<div class="t" style="left:657.70px;top:486.07px;width:300px;height:20px;line-height:20px;font-size:9.6px;color:#2f8089;text-align:right;transform:scaleX(0.9888);transform-origin:100% 0;">0.00</div>
<svg style="position:absolute;left:1130.00px;top:489.00px;" width="11" height="11" viewBox="0 0 11 11"><rect x="1" y="1" width="9.5" height="9.5" rx="1.2" fill="#606060"/><path d="M3.2 5.9 L4.9 7.6 L8.4 3.9" fill="none" stroke="#fff" stroke-width="1.1"/></svg>
<svg style="position:absolute;left:1168.00px;top:489.00px;" width="11" height="11" viewBox="0 0 11 11"><rect x="1" y="1" width="9.5" height="9.5" rx="1.2" fill="#606060"/><path d="M3.2 5.9 L4.9 7.6 L8.4 3.9" fill="none" stroke="#fff" stroke-width="1.1"/></svg>
<div class="t" style="left:1194.00px;top:486.07px;height:20px;line-height:20px;font-size:9.6px;color:#424242;transform:scaleX(0.9375);transform-origin:0 0;">EURO</div>
<div class="t" style="left:112.70px;top:504.77px;height:20px;line-height:20px;font-size:9.6px;color:#424242;transform-origin:0 0;">Labour</div>
<div class="t" style="left:197.30px;top:504.77px;height:20px;line-height:20px;font-size:9.6px;color:#424242;transform:scaleX(0.9375);transform-origin:0 0;">LAB</div>
<svg style="position:absolute;left:270.00px;top:505.75px;" width="14" height="14" viewBox="0 0 14 14"><path d="M2 1.6 V12.4" stroke="#2b2b2b" stroke-width="1.6"/><path d="M2.4 2.2 L11 5.6 L2.4 9 Z" fill="#d93030" stroke="#5a1a1a" stroke-width="0.5" stroke-linejoin="round"/></svg>
<div class="t" style="left:303.50px;top:504.77px;height:20px;line-height:20px;font-size:9.6px;color:#424242;transform:scaleX(1.0054);transform-origin:0 0;">Remove and Install Front ...</div>
<div class="t" style="left:426.20px;top:504.77px;height:20px;line-height:20px;font-size:9.6px;color:#2f8089;transform:scaleX(0.9715);transform-origin:0 0;">No</div>
<div class="t" style="left:477.80px;top:504.77px;height:20px;line-height:20px;font-size:9.6px;color:#424242;transform:scaleX(0.9503);transform-origin:0 0;">STANDARD</div>
<div class="t" style="left:549.70px;top:504.77px;height:20px;line-height:20px;font-size:9.6px;color:#2f8089;transform:scaleX(1.0065);transform-origin:0 0;">Remove and Install Front bra...</div>
<div class="t" style="left:435.80px;top:504.77px;width:300px;height:20px;line-height:20px;font-size:9.6px;color:#424242;text-align:right;transform:scaleX(0.9844);transform-origin:100% 0;">1</div>
<div class="t" style="left:513.00px;top:504.77px;width:300px;height:20px;line-height:20px;font-size:9.6px;color:#424242;text-align:right;transform:scaleX(0.9888);transform-origin:100% 0;">0.00</div>
<div class="t" style="left:589.30px;top:504.77px;width:300px;height:20px;line-height:20px;font-size:9.6px;color:#424242;text-align:right;transform:scaleX(0.9878);transform-origin:100% 0;">72.00</div>
<div class="t" style="left:657.70px;top:504.77px;width:300px;height:20px;line-height:20px;font-size:9.6px;color:#2f8089;text-align:right;transform:scaleX(0.9878);transform-origin:100% 0;">86.40</div>
<svg style="position:absolute;left:1130.00px;top:507.00px;" width="11" height="11" viewBox="0 0 11 11"><rect x="1.5" y="1.5" width="8.6" height="8.6" rx="1.3" fill="#fff" stroke="#666" stroke-width="0.85"/></svg>
<svg style="position:absolute;left:1168.00px;top:507.00px;" width="11" height="11" viewBox="0 0 11 11"><rect x="1.5" y="1.5" width="8.6" height="8.6" rx="1.3" fill="#fff" stroke="#666" stroke-width="0.85"/></svg>
<div class="t" style="left:112.70px;top:522.77px;height:20px;line-height:20px;font-size:9.6px;color:#424242;transform:scaleX(1.0045);transform-origin:0 0;">Item</div>
<div class="t" style="left:197.30px;top:522.77px;height:20px;line-height:20px;font-size:9.6px;color:#424242;transform:scaleX(0.9375);transform-origin:0 0;">MISC</div>
<svg style="position:absolute;left:270.00px;top:523.75px;" width="14" height="14" viewBox="0 0 14 14"><path d="M2 1.6 V12.4" stroke="#2b2b2b" stroke-width="1.6"/><path d="M2.4 2.2 L11 5.6 L2.4 9 Z" fill="#d93030" stroke="#5a1a1a" stroke-width="0.5" stroke-linejoin="round"/></svg>
<div class="t" style="left:303.50px;top:522.77px;height:20px;line-height:20px;font-size:9.6px;color:#424242;transform:scaleX(1.0093);transform-origin:0 0;">Front brake pads</div>
<div class="t" style="left:426.20px;top:522.77px;height:20px;line-height:20px;font-size:9.6px;color:#2f8089;transform:scaleX(0.9715);transform-origin:0 0;">No</div>
<div class="t" style="left:477.80px;top:522.77px;height:20px;line-height:20px;font-size:9.6px;color:#424242;transform:scaleX(0.9503);transform-origin:0 0;">STANDARD</div>
<div class="t" style="left:549.70px;top:522.77px;height:20px;line-height:20px;font-size:9.6px;color:#2f8089;transform:scaleX(1.0065);transform-origin:0 0;">Remove and Install Front bra...</div>
<div class="t" style="left:435.80px;top:522.77px;width:300px;height:20px;line-height:20px;font-size:9.6px;color:#424242;text-align:right;transform:scaleX(0.9844);transform-origin:100% 0;">1</div>
<div class="t" style="left:513.00px;top:522.77px;width:300px;height:20px;line-height:20px;font-size:9.6px;color:#424242;text-align:right;transform:scaleX(0.9878);transform-origin:100% 0;">20.00</div>
<div class="t" style="left:589.30px;top:522.77px;width:300px;height:20px;line-height:20px;font-size:9.6px;color:#424242;text-align:right;transform:scaleX(0.9878);transform-origin:100% 0;">25.00</div>
<div class="t" style="left:657.70px;top:522.77px;width:300px;height:20px;line-height:20px;font-size:9.6px;color:#2f8089;text-align:right;transform:scaleX(0.9878);transform-origin:100% 0;">30.00</div>
<svg style="position:absolute;left:1130.00px;top:525.00px;" width="11" height="11" viewBox="0 0 11 11"><rect x="1.5" y="1.5" width="8.6" height="8.6" rx="1.3" fill="#fff" stroke="#666" stroke-width="0.85"/></svg>
<svg style="position:absolute;left:1168.00px;top:525.00px;" width="11" height="11" viewBox="0 0 11 11"><rect x="1.5" y="1.5" width="8.6" height="8.6" rx="1.3" fill="#fff" stroke="#666" stroke-width="0.85"/></svg>
<div class="t" style="left:112.70px;top:541.47px;height:20px;line-height:20px;font-size:9.6px;color:#424242;transform:scaleX(1.0045);transform-origin:0 0;">Item</div>
<div class="t" style="left:197.30px;top:541.47px;height:20px;line-height:20px;font-size:9.6px;color:#424242;transform:scaleX(0.9375);transform-origin:0 0;">MISC</div>
<svg style="position:absolute;left:270.00px;top:542.45px;" width="14" height="14" viewBox="0 0 14 14"><path d="M2 1.6 V12.4" stroke="#2b2b2b" stroke-width="1.6"/><path d="M2.4 2.2 L11 5.6 L2.4 9 Z" fill="#d93030" stroke="#5a1a1a" stroke-width="0.5" stroke-linejoin="round"/></svg>
<div class="t" style="left:303.50px;top:541.47px;height:20px;line-height:20px;font-size:9.6px;color:#424242;transform:scaleX(1.0090);transform-origin:0 0;">Front brake disc</div>
<div class="t" style="left:426.20px;top:541.47px;height:20px;line-height:20px;font-size:9.6px;color:#2f8089;transform:scaleX(0.9715);transform-origin:0 0;">No</div>
<div class="t" style="left:477.80px;top:541.47px;height:20px;line-height:20px;font-size:9.6px;color:#424242;transform:scaleX(0.9503);transform-origin:0 0;">STANDARD</div>
<div class="t" style="left:549.70px;top:541.47px;height:20px;line-height:20px;font-size:9.6px;color:#2f8089;transform:scaleX(1.0065);transform-origin:0 0;">Remove and Install Front bra...</div>
<div class="t" style="left:435.80px;top:541.47px;width:300px;height:20px;line-height:20px;font-size:9.6px;color:#424242;text-align:right;transform:scaleX(0.9844);transform-origin:100% 0;">1</div>
<div class="t" style="left:513.00px;top:541.47px;width:300px;height:20px;line-height:20px;font-size:9.6px;color:#424242;text-align:right;transform:scaleX(0.9878);transform-origin:100% 0;">18.00</div>
<div class="t" style="left:589.30px;top:541.47px;width:300px;height:20px;line-height:20px;font-size:9.6px;color:#424242;text-align:right;transform:scaleX(0.9878);transform-origin:100% 0;">24.00</div>
<div class="t" style="left:657.70px;top:541.47px;width:300px;height:20px;line-height:20px;font-size:9.6px;color:#2f8089;text-align:right;transform:scaleX(0.9878);transform-origin:100% 0;">28.80</div>
<svg style="position:absolute;left:1130.00px;top:544.00px;" width="11" height="11" viewBox="0 0 11 11"><rect x="1.5" y="1.5" width="8.6" height="8.6" rx="1.3" fill="#fff" stroke="#666" stroke-width="0.85"/></svg>
<svg style="position:absolute;left:1168.00px;top:544.00px;" width="11" height="11" viewBox="0 0 11 11"><rect x="1.5" y="1.5" width="8.6" height="8.6" rx="1.3" fill="#fff" stroke="#666" stroke-width="0.85"/></svg>
<div class="t" style="left:112.70px;top:559.87px;height:20px;line-height:20px;font-size:9.6px;color:#424242;transform-origin:0 0;">Labour</div>
<div class="t" style="left:197.30px;top:559.87px;height:20px;line-height:20px;font-size:9.6px;color:#424242;transform:scaleX(0.9375);transform-origin:0 0;">LAB</div>
<svg style="position:absolute;left:270.00px;top:560.85px;" width="14" height="14" viewBox="0 0 14 14"><path d="M2 1.6 V12.4" stroke="#2b2b2b" stroke-width="1.6"/><path d="M2.4 2.2 L11 5.6 L2.4 9 Z" fill="#d93030" stroke="#5a1a1a" stroke-width="0.5" stroke-linejoin="round"/></svg>
<div class="t" style="left:303.50px;top:559.87px;height:20px;line-height:20px;font-size:9.6px;color:#424242;transform:scaleX(1.0045);transform-origin:0 0;">Remove and Install Rear ...</div>
<div class="t" style="left:426.20px;top:559.87px;height:20px;line-height:20px;font-size:9.6px;color:#2f8089;transform:scaleX(0.9715);transform-origin:0 0;">No</div>
<div class="t" style="left:477.80px;top:559.87px;height:20px;line-height:20px;font-size:9.6px;color:#424242;transform:scaleX(0.9503);transform-origin:0 0;">STANDARD</div>
<div class="t" style="left:549.70px;top:559.87px;height:20px;line-height:20px;font-size:9.6px;color:#2f8089;transform:scaleX(1.0061);transform-origin:0 0;">Remove and Install Rear brak...</div>
<div class="t" style="left:435.80px;top:559.87px;width:300px;height:20px;line-height:20px;font-size:9.6px;color:#424242;text-align:right;transform:scaleX(0.9906);transform-origin:100% 0;">1.4</div>
<div class="t" style="left:513.00px;top:559.87px;width:300px;height:20px;line-height:20px;font-size:9.6px;color:#424242;text-align:right;transform:scaleX(0.9888);transform-origin:100% 0;">0.00</div>
<div class="t" style="left:589.30px;top:559.87px;width:300px;height:20px;line-height:20px;font-size:9.6px;color:#424242;text-align:right;transform:scaleX(0.9878);transform-origin:100% 0;">72.00</div>
<div class="t" style="left:657.70px;top:559.87px;width:300px;height:20px;line-height:20px;font-size:9.6px;color:#2f8089;text-align:right;transform:scaleX(0.9878);transform-origin:100% 0;">86.40</div>
<svg style="position:absolute;left:1130.00px;top:562.00px;" width="11" height="11" viewBox="0 0 11 11"><rect x="1.5" y="1.5" width="8.6" height="8.6" rx="1.3" fill="#fff" stroke="#666" stroke-width="0.85"/></svg>
<svg style="position:absolute;left:1168.00px;top:562.00px;" width="11" height="11" viewBox="0 0 11 11"><rect x="1.5" y="1.5" width="8.6" height="8.6" rx="1.3" fill="#fff" stroke="#666" stroke-width="0.85"/></svg>
<div class="t" style="left:112.70px;top:578.07px;height:20px;line-height:20px;font-size:9.6px;color:#424242;transform:scaleX(1.0045);transform-origin:0 0;">Item</div>
<div class="t" style="left:197.30px;top:578.07px;height:20px;line-height:20px;font-size:9.6px;color:#424242;transform:scaleX(0.9375);transform-origin:0 0;">MISC</div>
<svg style="position:absolute;left:270.00px;top:579.05px;" width="14" height="14" viewBox="0 0 14 14"><path d="M2 1.6 V12.4" stroke="#2b2b2b" stroke-width="1.6"/><path d="M2.4 2.2 L11 5.6 L2.4 9 Z" fill="#d93030" stroke="#5a1a1a" stroke-width="0.5" stroke-linejoin="round"/></svg>
<div class="t" style="left:303.50px;top:578.07px;height:20px;line-height:20px;font-size:9.6px;color:#424242;transform:scaleX(1.0080);transform-origin:0 0;">Rear brake pads</div>
<div class="t" style="left:426.20px;top:578.07px;height:20px;line-height:20px;font-size:9.6px;color:#2f8089;transform:scaleX(0.9715);transform-origin:0 0;">No</div>
<div class="t" style="left:477.80px;top:578.07px;height:20px;line-height:20px;font-size:9.6px;color:#424242;transform:scaleX(0.9503);transform-origin:0 0;">STANDARD</div>
<div class="t" style="left:549.70px;top:578.07px;height:20px;line-height:20px;font-size:9.6px;color:#2f8089;transform:scaleX(1.0061);transform-origin:0 0;">Remove and Install Rear brak...</div>
<div class="t" style="left:435.80px;top:578.07px;width:300px;height:20px;line-height:20px;font-size:9.6px;color:#424242;text-align:right;transform:scaleX(0.9844);transform-origin:100% 0;">1</div>
<div class="t" style="left:513.00px;top:578.07px;width:300px;height:20px;line-height:20px;font-size:9.6px;color:#424242;text-align:right;transform:scaleX(0.9878);transform-origin:100% 0;">20.00</div>
<div class="t" style="left:589.30px;top:578.07px;width:300px;height:20px;line-height:20px;font-size:9.6px;color:#424242;text-align:right;transform:scaleX(0.9878);transform-origin:100% 0;">25.00</div>
<div class="t" style="left:657.70px;top:578.07px;width:300px;height:20px;line-height:20px;font-size:9.6px;color:#2f8089;text-align:right;transform:scaleX(0.9878);transform-origin:100% 0;">30.00</div>
<svg style="position:absolute;left:1130.00px;top:581.00px;" width="11" height="11" viewBox="0 0 11 11"><rect x="1.5" y="1.5" width="8.6" height="8.6" rx="1.3" fill="#fff" stroke="#666" stroke-width="0.85"/></svg>
<svg style="position:absolute;left:1168.00px;top:581.00px;" width="11" height="11" viewBox="0 0 11 11"><rect x="1.5" y="1.5" width="8.6" height="8.6" rx="1.3" fill="#fff" stroke="#666" stroke-width="0.85"/></svg>
<div class="t" style="left:112.70px;top:596.57px;height:20px;line-height:20px;font-size:9.6px;color:#424242;transform:scaleX(1.0045);transform-origin:0 0;">Item</div>
<div class="t" style="left:197.30px;top:596.57px;height:20px;line-height:20px;font-size:9.6px;color:#424242;transform:scaleX(0.9375);transform-origin:0 0;">MISC</div>
<svg style="position:absolute;left:270.00px;top:597.55px;" width="14" height="14" viewBox="0 0 14 14"><path d="M2 1.6 V12.4" stroke="#2b2b2b" stroke-width="1.6"/><path d="M2.4 2.2 L11 5.6 L2.4 9 Z" fill="#d93030" stroke="#5a1a1a" stroke-width="0.5" stroke-linejoin="round"/></svg>
<div class="t" style="left:303.50px;top:596.57px;height:20px;line-height:20px;font-size:9.6px;color:#424242;transform:scaleX(1.0076);transform-origin:0 0;">Rear brake disc</div>
<div class="t" style="left:426.20px;top:596.57px;height:20px;line-height:20px;font-size:9.6px;color:#2f8089;transform:scaleX(0.9715);transform-origin:0 0;">No</div>
<div class="t" style="left:477.80px;top:596.57px;height:20px;line-height:20px;font-size:9.6px;color:#424242;transform:scaleX(0.9503);transform-origin:0 0;">STANDARD</div>
<div class="t" style="left:549.70px;top:596.57px;height:20px;line-height:20px;font-size:9.6px;color:#2f8089;transform:scaleX(1.0061);transform-origin:0 0;">Remove and Install Rear brak...</div>
<div class="t" style="left:435.80px;top:596.57px;width:300px;height:20px;line-height:20px;font-size:9.6px;color:#424242;text-align:right;transform:scaleX(0.9844);transform-origin:100% 0;">1</div>
<div class="t" style="left:513.00px;top:596.57px;width:300px;height:20px;line-height:20px;font-size:9.6px;color:#424242;text-align:right;transform:scaleX(0.9878);transform-origin:100% 0;">18.00</div>
<div class="t" style="left:589.30px;top:596.57px;width:300px;height:20px;line-height:20px;font-size:9.6px;color:#424242;text-align:right;transform:scaleX(0.9878);transform-origin:100% 0;">23.00</div>
<div class="t" style="left:657.70px;top:596.57px;width:300px;height:20px;line-height:20px;font-size:9.6px;color:#2f8089;text-align:right;transform:scaleX(0.9878);transform-origin:100% 0;">27.60</div>
<svg style="position:absolute;left:1130.00px;top:599.00px;" width="11" height="11" viewBox="0 0 11 11"><rect x="1.5" y="1.5" width="8.6" height="8.6" rx="1.3" fill="#fff" stroke="#666" stroke-width="0.85"/></svg>
<svg style="position:absolute;left:1168.00px;top:599.00px;" width="11" height="11" viewBox="0 0 11 11"><rect x="1.5" y="1.5" width="8.6" height="8.6" rx="1.3" fill="#fff" stroke="#666" stroke-width="0.85"/></svg>
<div style="left:1232.30px;top:411.60px;width:9.50px;height:202.70px;background:#ececec"></div>
<div style="left:1232.30px;top:411.60px;width:9.50px;height:131.30px;background:#a7a7a7"></div>
<div style="left:93.50px;top:615.30px;width:1148.50px;height:11.40px;background:#f0f0f0"></div>
<div style="left:105.90px;top:616.10px;width:1030.10px;height:8.90px;background:#c0c0c0"></div>
<svg style="position:absolute;left:95.00px;top:617.00px;" width="8" height="8" viewBox="0 0 8 8"><path d="M5.8 1 V7 L2.6 4 Z" fill="#9a9a9a"/></svg>
<svg style="position:absolute;left:1232.00px;top:617.00px;" width="8" height="8" viewBox="0 0 8 8"><path d="M2.4 1 V7 L5.6 4 Z" fill="#333"/></svg>
<div class="t" style="left:94.00px;top:673.98px;height:20px;line-height:20px;font-size:12.6px;color:#333;transform:scaleX(1.0357);transform-origin:0 0;-webkit-text-stroke:0.2px #333">Invoicing</div>
<div class="t" style="left:942.00px;top:676.30px;width:300px;height:20px;line-height:20px;font-size:8.2px;color:#596170;text-align:right;transform-origin:100% 0;">Show less</div>
<div style="left:93.50px;top:694.80px;width:1148.50px;height:1.00px;background:#a3acb7"></div>
</body></html>
